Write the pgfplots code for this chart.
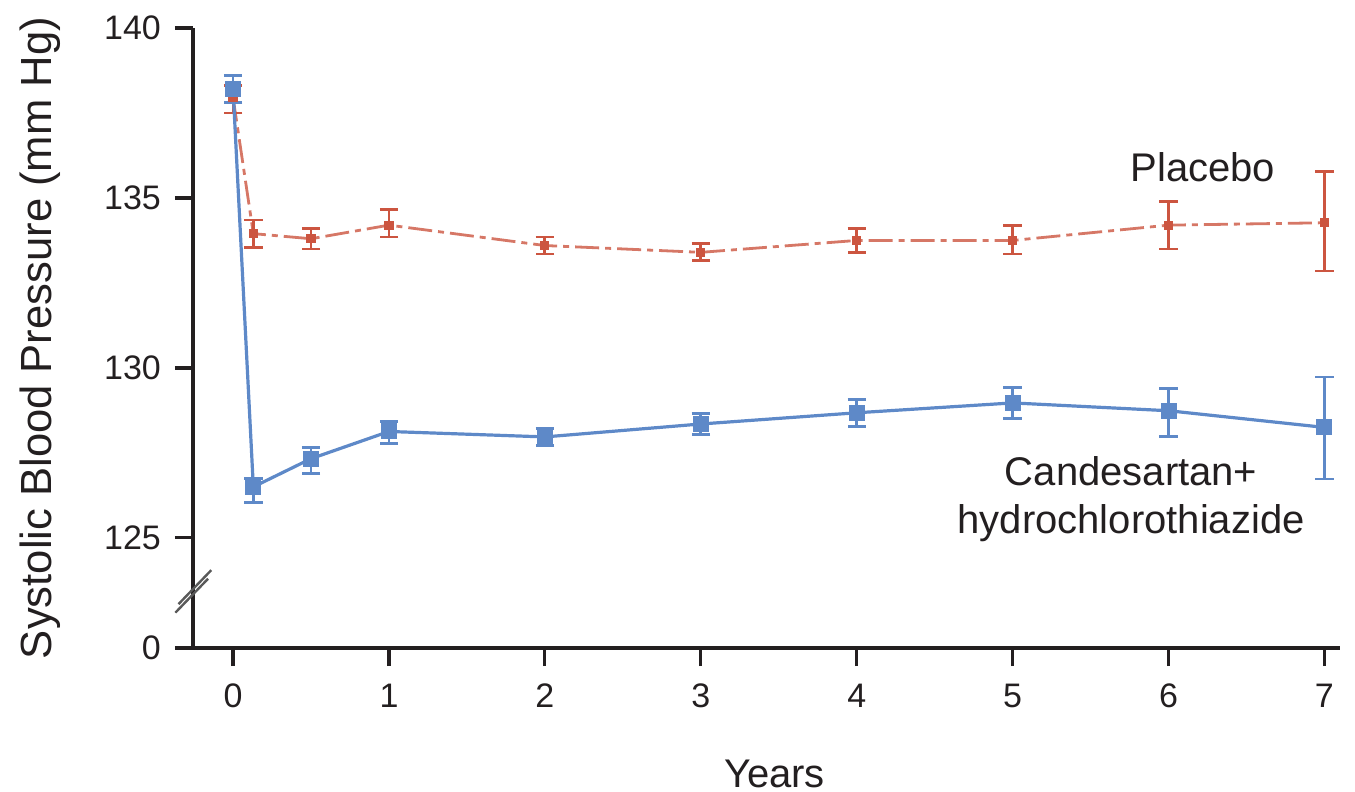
\documentclass[border=0pt]{standalone}
\usepackage{pgfplots}
\pgfplotsset{compat=1.18}
\usepackage{fontspec}
\setmainfont{Liberation Sans}
\definecolor{pred}{HTML}{CC5540}
\definecolor{cblue}{HTML}{5E89C8}
\definecolor{axc}{HTML}{231F20}
\begin{document}
\begin{tikzpicture}
\begin{axis}[
  at={(0,0)}, anchor=south west,
  scale only axis, width=286.75pt, height=155pt,
  xmin=-0.257, xmax=7.1, ymin=121.76, ymax=140,
  axis lines=left, axis line style={axc, line width=1pt, -},
  xtick={0,1,2,3,4,5,6,7},
  ytick={121.76,125,130,135,140},
  yticklabels={0,125,130,135,140},
  tick style={axc, line width=0.8pt},
  major tick length=4.5pt,
  tick align=outside,
  /pgf/number format/assume math mode=true,
  ticklabel style={font=\fontsize{8.5}{10}\selectfont, text=axc},
  xticklabel style={yshift=-1pt},
  xlabel={Years}, ylabel={Systolic Blood Pressure (mm Hg)},
  xlabel style={font=\fontsize{10}{12}\selectfont, text=axc, yshift=-6pt, xshift=2pt},
  ylabel style={font=\fontsize{10.9}{12}\selectfont, text=axc, yshift=4pt},
  clip=false,
]
\addplot[pred, line width=0.7pt, opacity=0.8, dash pattern=on 6pt off 1.5pt on 1.5pt off 1.5pt,
  mark=square*, mark size=0.8pt, mark options={solid, opacity=1},
  error bars/.cd, y dir=both, y explicit,
  error bar style={line width=0.7pt, solid, pred, opacity=1},
  error mark options={rotate=90, mark size=2.3pt, line width=0.7pt, pred, opacity=1}]
  table[x=x, y=y, y error plus=ep, y error minus=em] {
x y ep em
0 137.95 0.35 0.45
0.13 133.95 0.4 0.4
0.5 133.8 0.3 0.3
1 134.2 0.45 0.35
2 133.6 0.25 0.25
3 133.4 0.25 0.25
4 133.75 0.35 0.35
5 133.75 0.45 0.4
6 134.2 0.7 0.7
7 134.27 1.5 1.42
};
\addplot[cblue, line width=0.8pt, mark=square*, mark size=1.6pt,
  error bars/.cd, y dir=both, y explicit,
  error bar style={line width=0.7pt, cblue},
  error mark options={rotate=90, mark size=2.3pt, line width=0.7pt, cblue}]
  table[x=x, y=y, y error plus=ep, y error minus=em] {
x y ep em
0 138.2 0.4 0.4
0.13 126.5 0.25 0.45
0.5 127.33 0.33 0.43
1 128.13 0.3 0.35
2 127.97 0.25 0.25
3 128.35 0.3 0.3
4 128.68 0.4 0.4
5 128.97 0.45 0.45
6 128.74 0.66 0.76
7 128.25 1.48 1.52
};
\node[font=\fontsize{10}{12}\selectfont, text=axc] at (axis cs:6.22,135.9) {Placebo};
\node[font=\fontsize{10}{12}\selectfont, text=axc, align=center] at (axis cs:5.76,126.15) {Candesartan+\\hydrochlorothiazide};
\draw[gray!70!black, line width=0.6pt] (axis cs:-0.35,123.05) -- (axis cs:-0.14,124.05);
\draw[gray!70!black, line width=0.6pt] (axis cs:-0.37,122.8) -- (axis cs:-0.16,123.8);
\end{axis}
\pgfresetboundingbox
\path (-48.25pt,-35.75pt) rectangle (290.5pt,162pt);
\end{tikzpicture}
\end{document}
